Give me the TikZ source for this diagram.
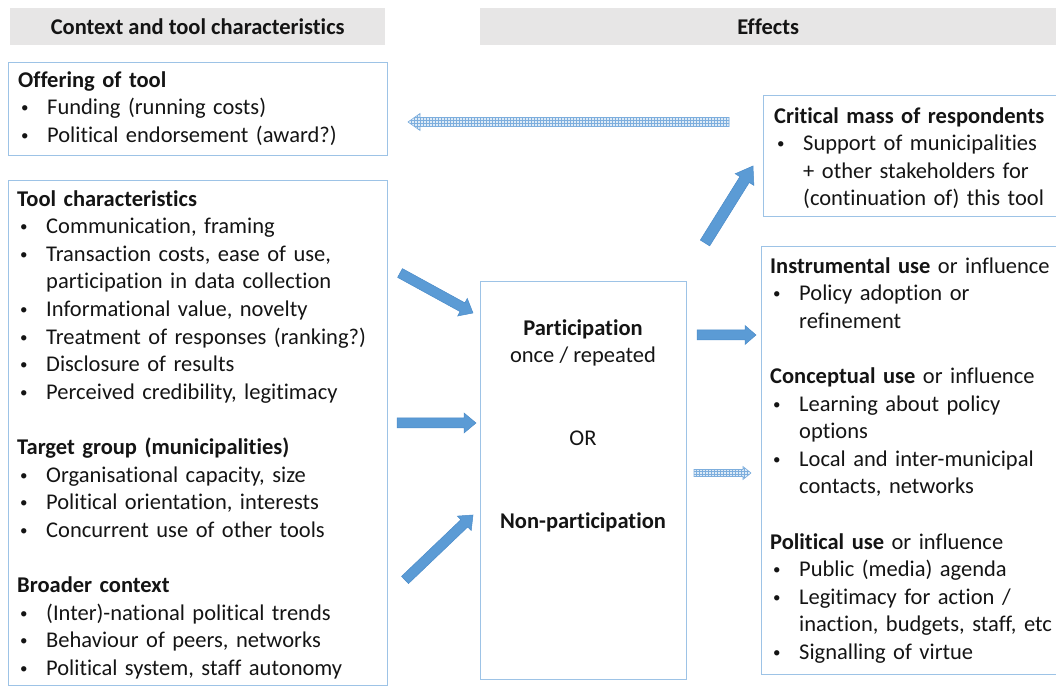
\documentclass[tikz,border=0pt]{standalone}
\usepackage{fontspec}
\setmainfont{Carlito}[Ligatures={NoCommon}]
\usetikzlibrary{calc,patterns}

\definecolor{boxline}{HTML}{9DC3E6}
\definecolor{arrowfill}{HTML}{5B9BD5}
\definecolor{arrowline}{HTML}{4A8BC9}
\definecolor{hatchfill}{HTML}{DEEBF7}
\definecolor{hatchline}{HTML}{7DAEDD}
\definecolor{headgray}{HTML}{E7E6E6}
\definecolor{ink}{HTML}{141414}

% bullet line and continuation line of a list
\newcommand\bulletmark{\raisebox{1.8pt}{\fontsize{15}{15}\selectfont •}}
\newcommand\bl[1]{\hspace*{3pt}\makebox[26pt][l]{\bulletmark}#1}
\newcommand\cl[1]{\hspace*{29pt}#1}
\newcommand\firstline{\rule{0pt}{21pt}}

% block arrow: [style]{tail}{tip}{shaft half width}{head half width}{head length}
\newcommand\blockarrow[6][]{%
  \path[#1] let \p1=($(#3)-(#2)$), \n1={atan2(\y1,\x1)}, \n2={veclen(\x1,\y1)} in
    ($(#2)+(\n1+90:#4pt)$)
    -- ($(#2)+(\n1:{\n2-#6pt})+(\n1+90:#4pt)$)
    -- ($(#2)+(\n1:{\n2-#6pt})+(\n1+90:#5pt)$)
    -- (#3)
    -- ($(#2)+(\n1:{\n2-#6pt})+(\n1-90:#5pt)$)
    -- ($(#2)+(\n1:{\n2-#6pt})+(\n1-90:#4pt)$)
    -- ($(#2)+(\n1-90:#4pt)$) -- cycle;}

\tikzset{
  box/.style={draw=boxline, line width=1.3pt, inner sep=0pt, anchor=south west},
  hdr/.style={fill=headgray, inner sep=0pt, anchor=south west,
              font=\fontsize{22.5}{27.6}\selectfont\bfseries},
  txt/.style={anchor=north west, inner sep=0pt, text width=#1, align=left},
  solidarrow/.style={fill=arrowfill, draw=arrowline, line width=0.5pt},
  hatcharrow/.style={preaction={fill=hatchfill}, pattern=grid, pattern color=hatchline,
                     draw=hatchline, line width=0.6pt},
}

\begin{document}
\begin{tikzpicture}[x=1pt, y=1pt, font=\fontsize{22.5}{27.6}\selectfont, text=ink]
\useasboundingbox (0,0) rectangle (1056,687);

% column headers
\node[hdr, minimum width=375pt, minimum height=37pt] (hdrL) at (10,642) {Context and tool characteristics};
\node[hdr, minimum width=576pt, minimum height=37pt] (hdrR) at (480,642) {Effects};

% boxes
\node[box, minimum width=379pt, minimum height=93pt]  (offer) at (8,531) {};
\node[box, minimum width=379pt, minimum height=505pt] (tool)  at (8,1) {};
\node[box, minimum width=206pt, minimum height=398pt] (part)  at (480,7) {};
\node[box, minimum width=296pt, minimum height=121pt] (crit)  at (763,470) {};
\node[box, minimum width=298pt, minimum height=428pt] (eff)   at (761,12) {};

% box texts
\node[txt=370pt] (offerTxt) at (18,621) {\firstline\textbf{Offering of tool}\\
\bl{Funding (running costs)}\\
\bl{Political endorsement (award?)}};

\node[txt=370pt] (toolTxt) at (17,502) {\firstline\textbf{Tool characteristics}\\
\bl{Communication, framing}\\
\bl{Transaction costs, ease of use,}\\
\cl{participation in data collection}\\
\bl{Informational value, novelty}\\
\bl{Treatment of responses (ranking?)}\\
\bl{Disclosure of results}\\
\bl{Perceived credibility, legitimacy}\\[27.6pt]
\textbf{Target group (municipalities)}\\
\bl{Organisational capacity, size}\\
\bl{Political orientation, interests}\\
\bl{Concurrent use of other tools}\\[27.6pt]
\textbf{Broader context}\\
\bl{(Inter)-national political trends}\\
\bl{Behaviour of peers, networks}\\
\bl{Political system, staff autonomy}};

\node[anchor=base, inner sep=0pt] (partHead) at (583,351) {\textbf{Participation}};
\node[anchor=base, inner sep=0pt] (partFreq) at (583,324) {once / repeated};
\node[anchor=base, inner sep=0pt] (orTxt)    at (583,241) {OR};
\node[anchor=base, inner sep=0pt] (nonPart)  at (583,158) {\textbf{Non-participation}};

\node[txt=290pt] (critTxt) at (774,585) {\firstline\textbf{Critical mass of respondents}\\
\bl{Support of municipalities}\\
\cl{+ other stakeholders for}\\
\cl{(continuation of) this tool}};

\node[txt=290pt] (effTxt) at (770,435) {\firstline\textbf{Instrumental use} or influence\\
\bl{Policy adoption or}\\
\cl{refinement}\\[27.6pt]
\textbf{Conceptual use} or influence\\
\bl{Learning about policy}\\
\cl{options}\\
\bl{Local and inter-municipal}\\
\cl{contacts, networks}\\[27.6pt]
\textbf{Political use} or influence\\
\bl{Public (media) agenda}\\
\bl{Legitimacy for action /}\\
\cl{inaction, budgets, staff, etc}\\
\bl{Signalling of virtue}};

% arrow end points
\coordinate (toolA) at (400,414);  \coordinate (partA) at (473,374);
\coordinate (toolB) at (397,264);  \coordinate (partB) at (476,264);
\coordinate (toolC) at (405,107);  \coordinate (partC) at (473,172);
\coordinate (partD) at (697,352);  \coordinate (effD)  at (756,352);
\coordinate (partE) at (694,214);  \coordinate (effE)  at (751,214);
\coordinate (partF) at (705,444);  \coordinate (critF) at (753,521);
\coordinate (critG) at (729,565);  \coordinate (offerG) at (408,565);

% arrows
\blockarrow[solidarrow]{toolA}{partA}{5}{10}{12}
\blockarrow[solidarrow]{toolB}{partB}{5}{10}{12}
\blockarrow[solidarrow]{toolC}{partC}{5}{10}{12}
\blockarrow[solidarrow]{partD}{effD}{5}{9.5}{11}
\blockarrow[solidarrow]{partF}{critF}{5.5}{11}{16}
\blockarrow[hatcharrow]{partE}{effE}{3.5}{6.5}{8}
\blockarrow[hatcharrow]{critG}{offerG}{4.5}{8.5}{12}
\end{tikzpicture}
\end{document}
